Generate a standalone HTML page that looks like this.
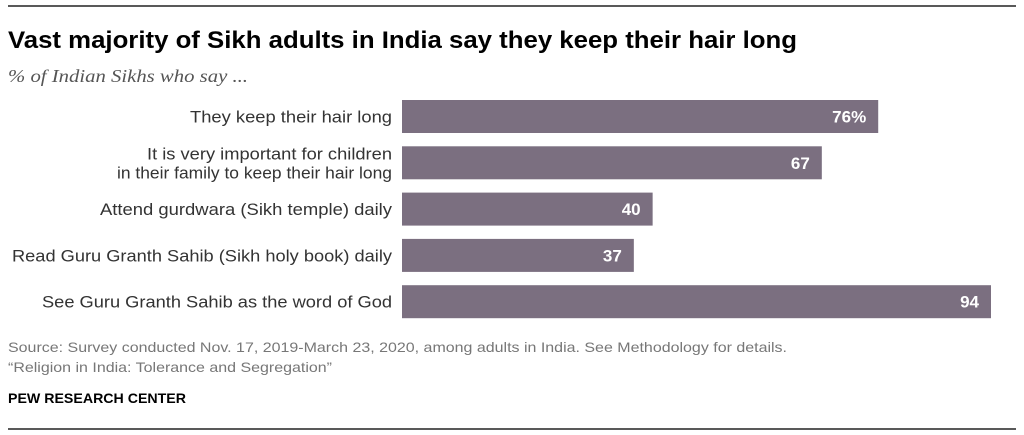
<!DOCTYPE html>
<html><head><meta charset="utf-8"><style>
body{margin:0;background:#fff;width:1024px;height:435px;overflow:hidden}
svg{display:block;font-family:"Liberation Sans",sans-serif}
</style></head><body>
<svg id="chart" width="1024" height="435">
<line x1="8" y1="6" x2="1016" y2="6" stroke="#222" stroke-width="1.5"/>
<text x="8" y="48" font-size="24" font-weight="bold" fill="#000" textLength="789" lengthAdjust="spacingAndGlyphs">Vast majority of Sikh adults in India say they keep their hair long</text>
<text x="8" y="82" font-size="18" font-style="italic" font-family="Liberation Serif,serif" fill="#555" textLength="240" lengthAdjust="spacingAndGlyphs">% of Indian Sikhs who say ...</text>
<g id="bars"></g>
<text x="8" y="352" font-size="14" fill="#777" textLength="779" lengthAdjust="spacingAndGlyphs">Source: Survey conducted Nov. 17, 2019-March 23, 2020, among adults in India. See Methodology for details.</text>
<text x="8" y="372" font-size="14" fill="#777" textLength="324" lengthAdjust="spacingAndGlyphs">“Religion in India: Tolerance and Segregation”</text>
<text x="8" y="403" font-size="14" font-weight="bold" fill="#000" textLength="178" lengthAdjust="spacingAndGlyphs">PEW RESEARCH CENTER</text>
<line x1="8" y1="429" x2="1016" y2="429" stroke="#222" stroke-width="1.5"/>
</svg>
<script>
const categories = [["They keep their hair long"],["It is very important for children","in their family to keep their hair long"],["Attend gurdwara (Sikh temple) daily"],["Read Guru Granth Sahib (Sikh holy book) daily"],["See Guru Granth Sahib as the word of God"]];
const values = [76,67,40,37,94];
const valueLabels = ["76%","67","40","37","94"];
const labelWidths = [[202],[245,275],[292],[380],[350]];
const ns="http://www.w3.org/2000/svg";
const g=document.getElementById('bars');
const x0=402, scale=(991-402)/94;
const xs=v=>v*scale;
const ys=i=>100+i*46.3;
const bh=33;
categories.forEach((c,i)=>{
  const y=ys(i);
  const r=document.createElementNS(ns,'rect');
  r.setAttribute('x',x0);r.setAttribute('y',y);r.setAttribute('width',xs(values[i]));r.setAttribute('height',bh);r.setAttribute('fill','#7b6f80');
  
  
  g.appendChild(r);
  const v=document.createElementNS(ns,'text');
  v.setAttribute('x',x0+xs(values[i])-12);v.setAttribute('y',y+bh/2+6);v.setAttribute('text-anchor','end');
  v.setAttribute('font-size','17');v.setAttribute('font-weight','bold');v.setAttribute('fill','#fff');
  v.textContent=valueLabels[i];
  
  
  g.appendChild(v);
  c.forEach((line,j)=>{
    const t=document.createElementNS(ns,'text');
    const n=c.length;
    const w=labelWidths[i][j];
    t.setAttribute('x',392-w);t.setAttribute('y',y+bh/2+6+(j-(n-1)/2)*19);
    t.setAttribute('font-size','17');t.setAttribute('fill','#333');
    t.setAttribute('textLength',w);t.setAttribute('lengthAdjust','spacingAndGlyphs');
    t.textContent=line;
    
    
    g.appendChild(t);
  });
});
</script>
</body></html>
